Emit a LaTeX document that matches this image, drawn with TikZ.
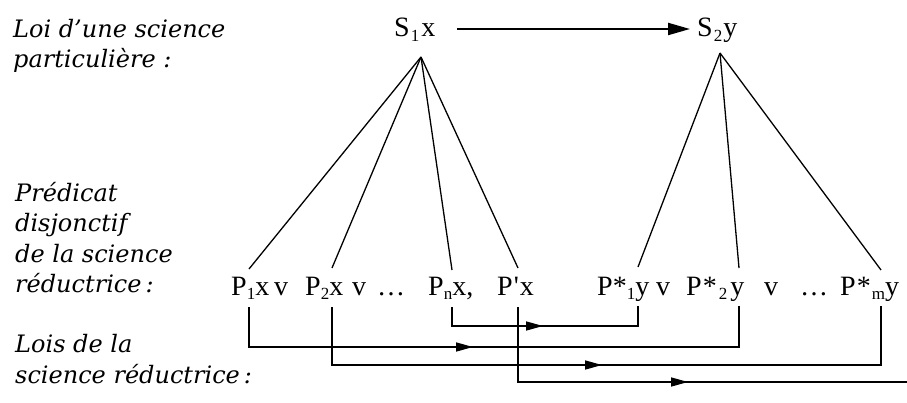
\documentclass[tikz,border=0pt]{standalone}
\usepackage{fontspec}
\setmainfont{Liberation Serif}
\newfontfamily\labfont{DejaVu Serif}
\usetikzlibrary{arrows.meta,decorations.markings}
\newcommand\sbs[1]{\raisebox{-0.17em}{\fontsize{17}{17}\selectfont #1}}
\begin{document}
\begin{tikzpicture}[x=1pt,y=-1pt,
  lab/.style={anchor=base west,inner sep=0pt,font=\labfont\itshape\fontsize{24}{28}\selectfont},
  term/.style={anchor=base west,inner sep=0pt,font=\rmfamily\fontsize{28}{32}\selectfont},
  fan/.style={line width=1.3pt},
  conn/.style={line width=1.6pt},
  toparrow/.style={line width=2.2pt,-{Triangle[length=22pt,width=12pt]}},
  midarrow/.style={postaction={decorate},decoration={markings,
     mark=at position #1 with {\arrow{Triangle[length=17pt,width=9pt]}}}}
]
\useasboundingbox (0,0) rectangle (907,403);

% labels
\node[lab] (l1) at (13,38) {Loi d’une science};
\node[lab] (l2) at (13,68) {particulière :};
\node[lab] (l3) at (15,202) {Prédicat};
\node[lab] (l4) at (15,232) {disjonctif};
\node[lab] (l5) at (15,262) {de la science};
\node[lab] (l6) at (15,292) {réductrice\,:};
\node[lab] (l7) at (15,352) {Lois de la};
\node[lab] (l8) at (15,383) {science réductrice\,:};

% top row
\node[term] (s1) at (394,37) {S\kern1pt\sbs{1}\kern2pt x};
\node[term] (s2) at (697,37) {S\kern1pt\sbs{2}\kern1pt y};

% bottom row
\node[term] (p1) at (231,295) {P\sbs{1}x};
\node[term] (v1) at (274,295) {v};
\node[term] (p2) at (305,295) {P\sbs{2}x};
\node[term] (v2) at (352,295) {v};
\node[term] (d1) at (377,295) {\ldots};
\node[term] (pn) at (428,295) {P\sbs{n}x,};
\node[term] (pp) at (497,295) {P\kern1pt\textquotesingle\kern1pt x};
\node[term] (q1) at (597,295) {P*\sbs{1}y};
\node[term] (v3) at (656,295) {v};
\node[term] (q2) at (686,295) {P\kern1pt*\kern2pt\sbs{2}\kern3pt y};
\node[term] (v4) at (764,295) {v};
\node[term] (d2) at (800,295) {\ldots};
\node[term] (qm) at (840,295) {P\kern1pt*\kern1pt\sbs{m}y};

% attachment points
\coordinate (s1a) at ([shift={(27,20)}]s1.base west);
\coordinate (s2a) at ([shift={(23,16)}]s2.base west);
\coordinate (p1t) at ([shift={(18,-26)}]p1.base west);
\coordinate (p1b) at ([shift={(18,12)}]p1.base west);
\coordinate (p2t) at ([shift={(27,-27)}]p2.base west);
\coordinate (p2b) at ([shift={(27,12)}]p2.base west);
\coordinate (pnt) at ([shift={(24,-25)}]pn.base west);
\coordinate (pnb) at ([shift={(24,12)}]pn.base west);
\coordinate (ppt) at ([shift={(21,-27)}]pp.base west);
\coordinate (ppb) at ([shift={(21,12)}]pp.base west);
\coordinate (q1t) at ([shift={(41,-28)}]q1.base west);
\coordinate (q1b) at ([shift={(41,11)}]q1.base west);
\coordinate (q2t) at ([shift={(53,-27)}]q2.base west);
\coordinate (q2b) at ([shift={(53,11)}]q2.base west);
\coordinate (qmt) at ([shift={(41,-25)}]qm.base west);
\coordinate (qmb) at ([shift={(41,11)}]qm.base west);
\coordinate (ppend) at (907,382);

% top arrow
\draw[toparrow] ([shift={(63,-8)}]s1.base west) -- ([shift={(-7,-8)}]s2.base west);

% fans
\foreach \t in {p1t,p2t,pnt,ppt} \draw[fan] (s1a) -- (\t);
\foreach \t in {q1t,q2t,qmt} \draw[fan] (s2a) -- (\t);

% laws
\draw[conn,midarrow=110pt] (pnb) -- ++(0,19) -| (q1b);
\draw[conn,midarrow=264pt] (p1b) -- ++(0,40) -| (q2b);
\draw[conn,midarrow=328pt] (p2b) -- ++(0,58) -| (qmb);
\draw[conn,midarrow=245pt] (ppb) |- (ppend);
\end{tikzpicture}
\end{document}
